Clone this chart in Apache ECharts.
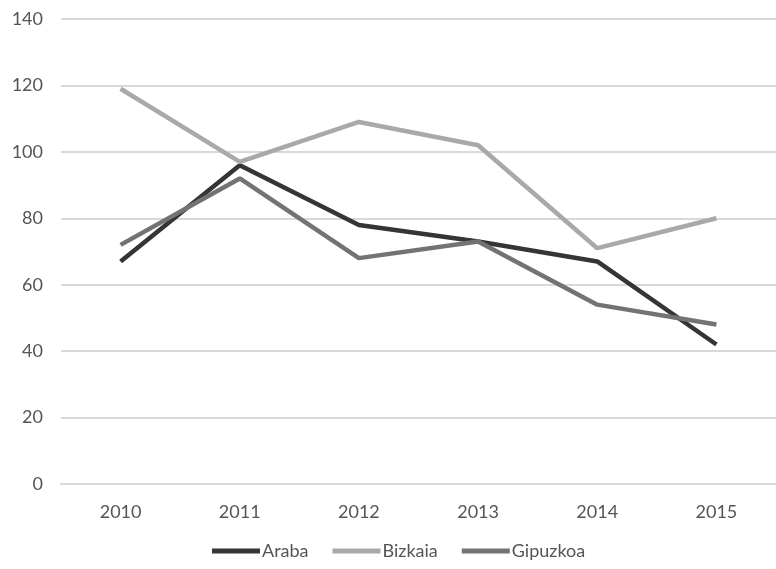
<!DOCTYPE html>
<html>
<head>
<meta charset="utf-8">
<script src="https://cdn.jsdelivr.net/npm/echarts@6/dist/echarts.min.js"></script>
<style>html,body{margin:0;padding:0;background:#fff;}#c{width:776px;height:569px;}</style>
</head>
<body>
<div id="c"></div>
<script>
var categories = ['2010', '2011', '2012', '2013', '2014', '2015'];
var araba = [67, 96, 78, 73, 67, 42];
var bizkaia = [119, 97, 109, 102, 71, 80];
var gipuzkoa = [72, 92, 68, 73, 54, 48];
var seriesNames = ['Araba', 'Bizkaia', 'Gipuzkoa'];
var colors = ['#353535', '#a9a9a9', '#737373'];

var chart = echarts.init(document.getElementById('c'), null, {renderer: 'canvas'});
var font = 'Lato, "Open Sans", sans-serif';
function mk(name, data, color) {
  return {
    name: name, type: 'line', data: data, symbol: 'none',
    lineStyle: {width: 4.5, color: color}, itemStyle: {color: color},
    animation: false
  };
}
chart.setOption({
  animation: false,
  grid: {left: 61, right: -2, top: 19, bottom: 85, containLabel: false},
  xAxis: {
    type: 'category', data: categories, boundaryGap: true,
    axisLine: {show: true, lineStyle: {color: '#d9d9d9', width: 2}},
    axisTick: {show: false},
    axisLabel: {color: '#555', fontSize: 18, fontFamily: font, margin: 19}
  },
  yAxis: {
    type: 'value', min: 0, max: 140, interval: 20,
    axisLine: {show: false}, axisTick: {show: false},
    splitLine: {lineStyle: {color: '#d9d9d9', width: 2}},
    axisLabel: {color: '#555', fontSize: 18, fontFamily: font, margin: 18}
  },
  legend: {
    bottom: 4, left: 207, icon: 'rect', itemWidth: 48, itemHeight: 5, itemGap: 24,
    textStyle: {color: '#555', fontSize: 18, fontFamily: font, padding: [0, 0, 0, -3]},
    data: seriesNames
  },
  series: [
    mk(seriesNames[0], araba, colors[0]),
    mk(seriesNames[1], bizkaia, colors[1]),
    mk(seriesNames[2], gipuzkoa, colors[2])
  ]
});
</script>
</body>
</html>
